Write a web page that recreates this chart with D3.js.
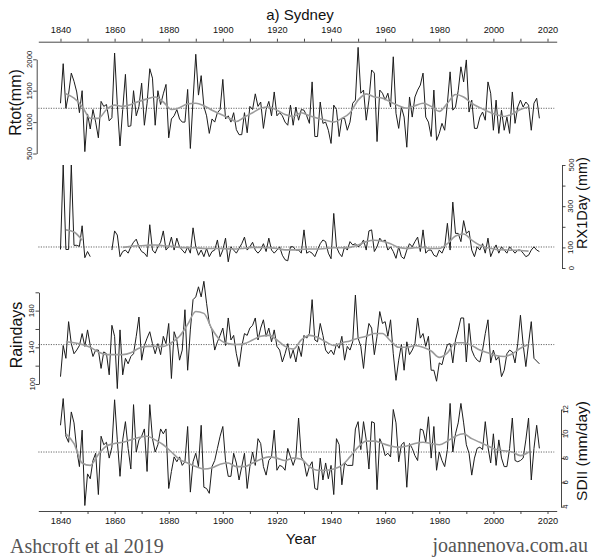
<!DOCTYPE html>
<html><head><meta charset="utf-8">
<script src="https://cdn.jsdelivr.net/npm/d3@7"></script>
<style>
body{margin:0;background:#fff;}
svg{display:block;}
text{font-family:"Liberation Sans",Arial,sans-serif;fill:#111;}
</style></head>
<body>
<svg id="chart" width="600" height="559"></svg>
<script>
// ---------------- DATA ----------------
const startYear = 1840;
const xTicks = [1840,1850,1860,1870,1880,1890,1900,1910,1920,1930,1940,1950,1960,1970,1980,1990,2000,2010,2020];

// Annual total rainfall (mm), 1840-2017
const rtot = [
 1300,1930,1220,1450,1780,1650,1480,1150,1500,530,
 1130,890,1200,1000,750,1330,1250,1280,1020,1070,
 2100,1280,620,1200,1760,930,940,1500,1100,1250,
 1620,950,1300,1850,1700,950,1500,1280,1450,1600,
 750,1050,1100,1200,1050,1000,1000,1520,580,1350,
 2080,1430,1740,1250,1100,820,1050,1000,1150,1200,
 1680,1050,1100,1000,1150,880,800,800,1150,830,
 1250,1200,1450,1250,1320,900,1200,1330,1100,1480,
 1100,1150,1100,1000,950,1270,950,1240,1030,1200,
 1190,1100,980,1640,770,770,1320,980,1000,870,
 660,1270,1200,770,1060,1060,870,1000,1300,1350,
 2190,1460,1510,1030,1350,1830,1780,690,1510,1460,
 1350,1460,1240,2040,1140,900,1240,1080,600,1400,
 1080,1400,1510,1590,1780,1080,1000,770,1510,710,
 820,980,870,1300,1800,1190,1240,1500,1880,1640,
 1990,1160,1350,900,900,1080,1160,1030,1640,1460,
 870,1350,820,1190,870,1080,820,1480,980,1240,
 1350,1240,1320,1270,870,1300,1380,1060
];
// Max 1-day rainfall (mm), 1840-2017 (null = missing)
const rx1day = [
 90,500,90,90,500,110,110,105,205,50,
 80,55,null,null,null,null,null,null,null,87,
 180,160,55,80,87,72,103,125,140,103,
 80,72,55,210,87,72,103,125,180,87,
 103,150,87,145,103,87,72,103,72,195,
 103,62,87,55,95,55,80,87,136,55,
 87,145,30,103,87,72,95,118,150,87,
 103,125,87,72,87,118,80,145,87,72,
 87,103,62,40,35,103,103,87,87,72,
 185,72,80,72,55,87,118,136,128,72,
 45,265,103,72,55,103,87,128,112,118,
 103,112,136,87,180,185,80,103,145,128,
 136,87,103,80,47,103,55,45,87,118,
 103,128,150,80,185,72,87,87,62,55,
 87,72,103,217,87,320,168,168,128,230,
 168,180,87,55,103,87,118,72,145,55,
 87,112,72,103,87,72,103,87,72,87,
 87,72,55,62,87,103,87,80
];
// Number of rain days, 1840-2017
const raindays = [
 108,142,128,168,144,133,137,142,155,141,
 159,142,130,137,137,117,135,133,110,164,
 152,95,159,110,128,122,130,133,152,173,
 126,142,150,157,144,133,144,132,152,144,
 166,106,157,148,126,137,181,115,159,192,
 195,206,195,212,188,166,159,137,146,153,
 161,142,172,148,153,133,119,141,155,153,
 161,164,172,148,161,170,152,161,146,159,
 141,137,124,133,144,128,137,124,141,130,
 153,150,155,192,148,146,166,153,137,133,
 137,132,144,139,152,126,141,137,146,197,
 150,141,117,148,166,161,132,152,179,166,
 168,152,170,133,104,126,143,115,146,132,
 137,144,172,150,155,141,152,115,115,103,
 123,121,133,143,144,123,148,159,172,172,
 124,166,137,130,126,124,137,155,170,123,
 137,126,130,108,115,133,137,135,123,144,
 175,143,119,144,168,128,125,122
];
// Simple daily intensity index (mm/day), 1840-2017
const sdii = [
 10.7,12.9,9.8,9.3,11.8,10.9,8.7,7.3,10.3,4.1,
 6.7,6.3,7.8,8.4,5.0,9.8,9.1,9.3,8.0,8.9,
 12.8,9.5,6.5,9.5,11.0,8.8,7.1,12.4,8.5,9.5,
 9.8,10.4,6.9,12.4,9.6,8.5,9.1,10.4,10.0,10.4,
 5.5,6.9,8.1,7.7,8.1,7.4,7.7,10.6,5.2,7.7,
 8.4,7.3,10.7,5.6,5.5,5.1,7.3,7.8,8.8,9.8,
 10.6,7.8,6.5,6.5,8.4,7.6,6.2,7.3,8.4,5.5,
 7.3,8.5,7.4,9.6,9.2,7.3,6.6,7.8,8.1,10.3,
 7.0,7.4,7.3,7.0,8.8,8.1,7.4,8.1,11.3,8.1,
 7.7,6.5,7.3,7.7,5.5,5.4,8.0,6.2,7.6,6.3,
 7.4,5.0,9.6,9.1,5.8,7.6,7.4,7.4,7.4,10.4,
 11.0,8.7,11.0,9.5,7.1,11.0,10.9,5.4,9.6,9.1,
 8.2,8.4,8.1,12.0,10.9,7.7,9.1,9.3,5.6,9.2,
 8.8,8.2,7.8,10.4,10.3,9.3,11.4,8.0,10.6,7.0,
 8.5,7.8,7.3,8.7,12.5,8.5,10.0,10.9,12.5,10.9,
 9.1,8.4,6.6,8.0,8.8,8.9,8.7,11.0,8.9,7.6,
 10.0,7.4,9.5,8.0,7.3,7.3,8.8,11.3,7.8,7.7,
 7.8,8.0,9.5,11.3,6.2,8.8,10.7,8.8
];

// Smoothed (grey) curves, sampled every 3 years from 1842 to 2013
const smoothYears = [1842,1845,1848,1851,1854,1857,1860,1863,1866,1869,
 1872,1875,1878,1881,1884,1887,1890,1893,1896,1899,
 1902,1905,1908,1911,1914,1917,1920,1923,1926,1929,
 1932,1935,1938,1941,1944,1947,1950,1953,1956,1959,
 1962,1965,1968,1971,1974,1977,1980,1983,1986,1989,
 1992,1995,1998,2001,2004,2007,2010,2013];
const rtotSmooth = [1450,1380,1250,1060,1060,1200,1270,1250,1280,1330,
 1370,1400,1320,1200,1230,1290,1300,1260,1190,1130,
 1070,1010,1080,1150,1220,1240,1190,1120,1090,1150,
 1100,1060,1030,1000,1060,1150,1350,1450,1400,1380,
 1320,1260,1220,1260,1300,1250,1170,1300,1440,1400,
 1300,1230,1170,1120,1090,1130,1200,1240];
const rx1daySmooth = [185,175,135,null,null,null,null,100,105,108,
 110,112,108,105,100,98,98,95,95,95,
 93,92,96,100,100,98,95,88,88,90,
 92,92,95,98,98,100,112,128,135,130,
 118,100,95,98,100,95,95,118,155,165,
 135,110,98,90,88,86,85,82];
const raindaysSmooth = [146,145,143,140,135,132,132,132,134,139,
 141,141,141,145,152,165,179,177,160,148,
 144,143,144,148,152,153,148,141,138,148,
 153,151,146,142,145,147,150,152,155,155,
 147,140,140,142,140,136,129,134,145,145,
 142,137,134,131,130,133,139,143];
const sdiiSmooth = [10.0,9.2,7.6,7.4,8.3,9.0,9.2,9.3,9.5,9.7,
 9.8,9.5,9.1,8.5,7.9,7.6,7.3,7.1,7.2,7.5,
 7.6,7.3,7.3,7.6,7.9,8.1,8.0,7.8,8.0,7.9,
 7.3,7.0,7.0,7.1,7.4,8.1,8.9,9.4,9.4,9.2,
 9.0,8.9,9.0,9.2,9.3,9.2,9.1,9.4,9.8,10.0,
 9.6,9.3,9.0,8.7,8.6,8.5,8.2,8.5];

// Long-term mean reference lines
const refMeans = {rtot:1220, rx1day:102, raindays:143, sdii:8.5};

// ---------------- DRAWING ----------------
const svg = d3.select("#chart");
const x = d3.scaleLinear().domain([1831.8, 2023.4]).range([38.3, 556.7]);
const AX = "#333";

const panels = [
  {data:rtot, smooth:rtotSmooth, ref:refMeans.rtot, dom:[500,2000], rng:[153.5,59.3],
   side:"left", axX:36.7, ticks:[500,1000,1500,2000], labels:[500,1000,1500,2000], labX:31.8,
   title:"Rtot(mm)", titleX:21, titleY:102.5, titleSize:16},
  {data:rx1day, smooth:rx1daySmooth, ref:refMeans.rx1day, dom:[0,500], rng:[268,165],
   side:"right", axX:562, ticks:[0,100,200,300,400,500], labels:[0,100,300,500], labX:573.5,
   title:"RX1Day (mm)", titleX:587, titleY:203, titleSize:14.5},
  {data:raindays, smooth:raindaysSmooth, ref:refMeans.raindays, dom:[100,200], rng:[384,292.3],
   side:"left", axX:39, ticks:[100,120,140,160,180,200], labels:[100,140,180], labX:34.5,
   title:"Raindays", titleX:21.5, titleY:335, titleSize:16},
  {data:sdii, smooth:sdiiSmooth, ref:refMeans.sdii, dom:[4,12], rng:[506.7,409.5],
   side:"right", axX:561, ticks:[4,6,8,10,12], labels:[4,6,8,10,12], labX:568,
   title:"SDII (mm/day)", titleX:587, titleY:451, titleSize:15.5}
];

panels.forEach(p => {
  const y = d3.scaleLinear().domain(p.dom).range(p.rng);
  const g = svg.append("g");
  // dotted mean line
  g.append("line")
    .attr("x1", x.range()[0]).attr("x2", x(2022.5))
    .attr("y1", y(p.ref)).attr("y2", y(p.ref))
    .attr("stroke", "#444").attr("stroke-width", 0.8)
    .attr("stroke-dasharray", "1.2,1.3");
  // raw series
  const line = d3.line()
    .defined(d => d != null)
    .x((d, i) => x(startYear + i))
    .y(d => y(d));
  g.append("path").datum(p.data)
    .attr("d", line).attr("fill", "none")
    .attr("stroke", "#1c1c1c").attr("stroke-width", 1)
    .attr("stroke-linejoin", "round");
  // smoothed series
  const sline = d3.line()
    .defined(d => d.v != null)
    .x(d => x(d.yr)).y(d => y(d.v))
    .curve(d3.curveMonotoneX);
  g.append("path").datum(smoothYears.map((yr, i) => ({yr, v: p.smooth[i]})))
    .attr("d", sline).attr("fill", "none")
    .attr("stroke", "#9c9c9c").attr("stroke-width", 1.6)
    .attr("stroke-linejoin", "round");
  // vertical axis
  const axis = (p.side === "left" ? d3.axisLeft(y) : d3.axisRight(y))
    .tickValues(p.ticks).tickFormat("").tickSize(3.5).tickSizeOuter(0);
  const ag = g.append("g").attr("transform", `translate(${p.axX},0)`).call(axis);
  ag.selectAll("path,line").attr("stroke", AX).attr("stroke-width", 0.9);
  // rotated tick labels
  p.labels.forEach(v => {
    g.append("text")
      .attr("x", p.labX).attr("y", y(v))
      .attr("transform", `rotate(-90,${p.labX},${y(v)})`)
      .attr("text-anchor", "middle")
      .attr("font-size", 7.8)
      .text(v);
  });
  // axis title
  g.append("text")
    .attr("x", p.titleX).attr("y", p.titleY)
    .attr("transform", `rotate(-90,${p.titleX},${p.titleY})`)
    .attr("text-anchor", "middle")
    .attr("font-size", p.titleSize)
    .text(p.title);
});

// horizontal axes
const fmt = d => (d % 20 === 0 ? d : "");
const topAx = svg.append("g").attr("transform", "translate(0,41.7)")
  .call(d3.axisTop(x).tickValues(xTicks).tickFormat(fmt).tickSize(3).tickSizeOuter(0).tickPadding(6));
const botAx = svg.append("g").attr("transform", "translate(0,511)")
  .call(d3.axisBottom(x).tickValues(xTicks).tickFormat(fmt).tickSize(3).tickSizeOuter(0).tickPadding(3));
[topAx, botAx].forEach(a => {
  a.selectAll("path,line").attr("stroke", AX).attr("stroke-width", 0.9);
  a.selectAll("text").attr("font-size", 9.2).attr("font-family", '"Liberation Sans",Arial,sans-serif').attr("fill", "#111");
});

// titles
svg.append("text").attr("x", 300).attr("y", 20).attr("text-anchor", "middle")
  .attr("font-size", 15).text("a) Sydney");
svg.append("text").attr("x", 301).attr("y", 544).attr("text-anchor", "middle")
  .attr("font-size", 15).text("Year");

// credits
svg.append("text").attr("x", 10).attr("y", 553)
  .style("font-family", '"Liberation Serif","Times New Roman",serif')
  .attr("font-size", 20).style("fill", "#555").text("Ashcroft et al 2019");
svg.append("text").attr("x", 588).attr("y", 552).attr("text-anchor", "end")
  .style("font-family", '"Liberation Serif","Times New Roman",serif')
  .attr("font-size", 20).style("fill", "#555").text("joannenova.com.au");
</script>
</body></html>
